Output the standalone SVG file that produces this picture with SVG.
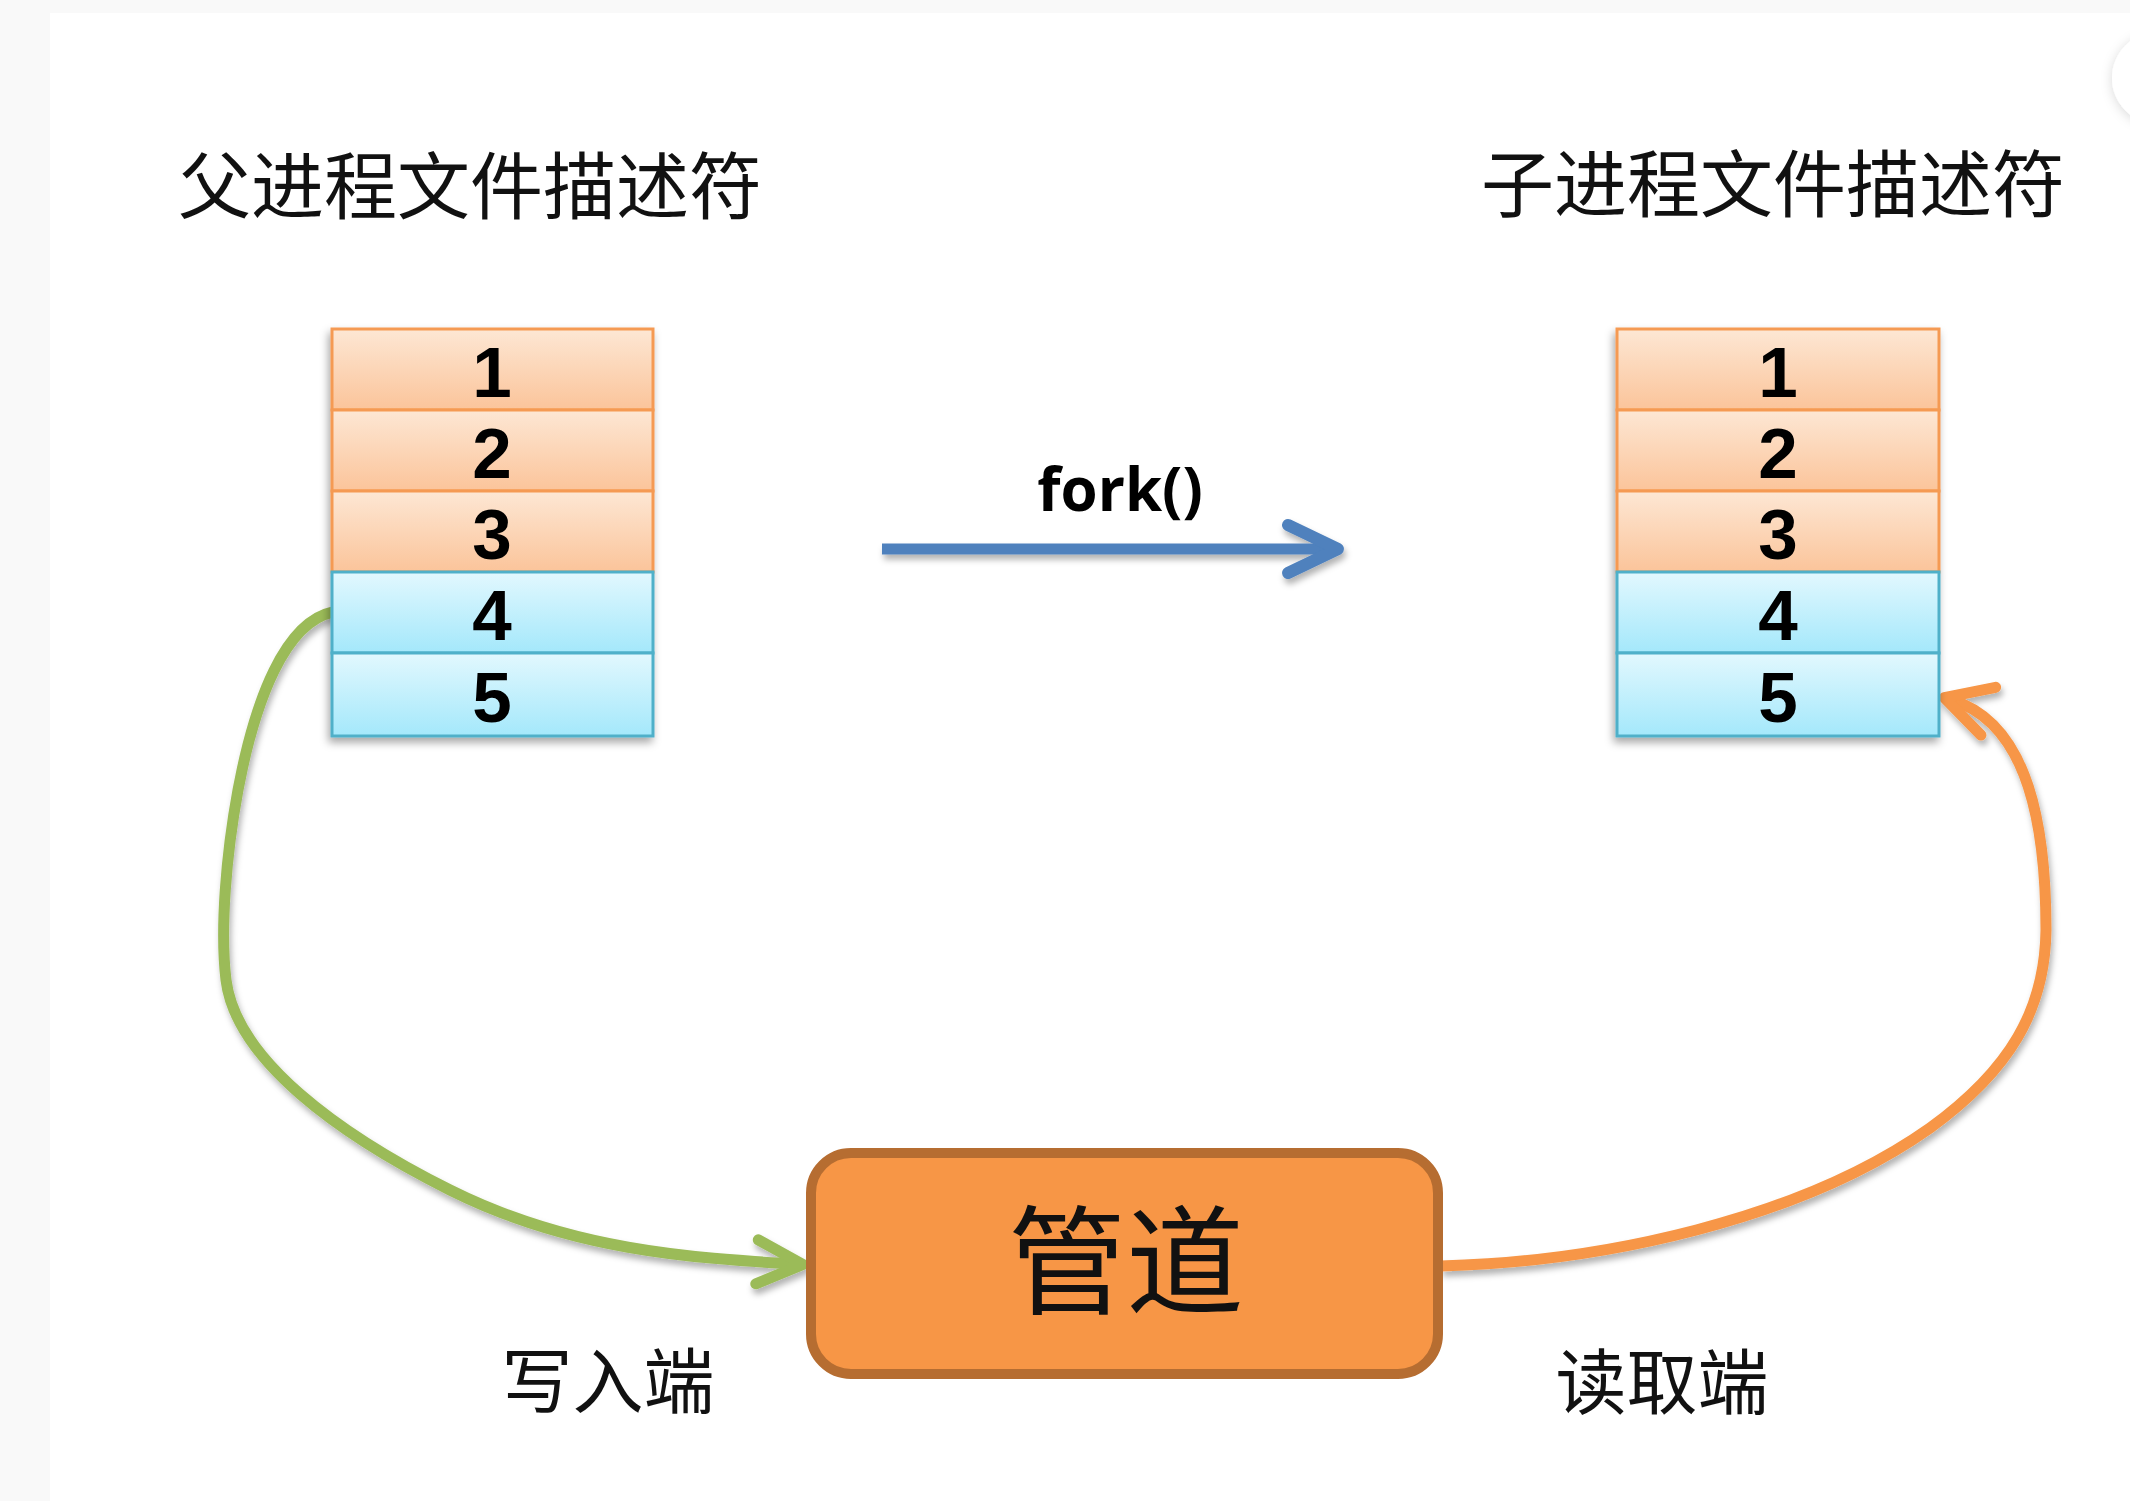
<svg xmlns="http://www.w3.org/2000/svg" width="2130" height="1501" viewBox="0 0 2130 1501">
<style>
.title{font-family:"Noto Sans CJK SC","Noto Sans",sans-serif;font-size:73px;fill:#111;text-anchor:middle}
.num{font-family:"Liberation Sans",Arial,sans-serif;font-weight:700;font-size:71px;fill:#000;text-anchor:middle}
.fork{font-family:"Open Sans","Liberation Sans",sans-serif;font-weight:700;font-size:60px;fill:#000;text-anchor:middle}
.lbl{font-family:"Noto Sans CJK SC",sans-serif;font-size:71px;fill:#111;text-anchor:middle}
.or{stroke:#f59a52;stroke-width:3}
.bl{stroke:#4fb0c9;stroke-width:3}
.conn{fill:none;stroke-width:11}
</style>
<defs>
<linearGradient id="gO" x1="0" y1="0" x2="0" y2="1"><stop offset="0" stop-color="#fde7d4"/><stop offset="1" stop-color="#fbc49a"/></linearGradient>
<linearGradient id="gB" x1="0" y1="0" x2="0" y2="1"><stop offset="0" stop-color="#e2f8fe"/><stop offset="1" stop-color="#a4e8fb"/></linearGradient>
<filter id="sh" x="-20%" y="-20%" width="140%" height="140%"><feDropShadow dx="-2" dy="5" stdDeviation="4" flood-color="#000" flood-opacity="0.35"/></filter>
<filter id="csh" x="-20%" y="-20%" width="140%" height="140%"><feDropShadow dx="2" dy="5" stdDeviation="3" flood-color="#000" flood-opacity="0.3"/></filter>
<filter id="ring" x="-50%" y="-50%" width="200%" height="200%"><feDropShadow dx="0" dy="2" stdDeviation="6" flood-color="#000" flood-opacity="0.15"/></filter>
<marker id="aBlue" viewBox="-60 -35 70 70" markerWidth="70" markerHeight="70" markerUnits="userSpaceOnUse" refX="-8" refY="0" orient="auto"><path d="M-50,-24 L0,0 L-50,24" fill="none" stroke="#4f81bd" stroke-width="12" stroke-linecap="round" stroke-linejoin="round"/></marker>
<marker id="aGreen" viewBox="-60 -35 70 70" markerWidth="70" markerHeight="70" markerUnits="userSpaceOnUse" refX="-8" refY="0" orient="auto"><path d="M-46,-22 L0,0 L-46,22" fill="none" stroke="#9bbb59" stroke-width="11" stroke-linecap="round" stroke-linejoin="round"/></marker>
<marker id="aOrange" viewBox="-60 -35 70 70" markerWidth="70" markerHeight="70" markerUnits="userSpaceOnUse" refX="-8" refY="0" orient="auto"><path d="M-46,-25 L0,0 L-46,25" fill="none" stroke="#f79646" stroke-width="11" stroke-linecap="round" stroke-linejoin="round"/></marker>
</defs>
<rect x="0" y="0" width="2130" height="1501" fill="#f9f9f9"/>
<rect x="50" y="13" width="2080" height="1488" fill="#ffffff"/>
<circle cx="2158" cy="78" r="46" fill="#ffffff" filter="url(#ring)"/>

<g id="title-parent"><text class="title" x="470" y="213">父进程文件描述符</text></g>
<g id="title-child"><text class="title" x="1773" y="211">子进程文件描述符</text></g>

<g id="connectors">
<g filter="url(#csh)">
<path id="fork-arrow" class="conn" d="M882,549 L1330,549" stroke="#4f81bd" stroke-width="12" marker-end="url(#aBlue)"/>
<path id="write-end" class="conn" d="M333,612 C285,622 255,700 238,790 C226,855 220,930 226,980 C236,1060 340,1135 450,1190 C570,1250 690,1258 795,1264" stroke="#9bbb59" marker-end="url(#aGreen)"/>
<path id="read-end" class="conn" d="M1441,1266 C1600,1262 1800,1220 1930,1128 C2010,1070 2045,1010 2046,930 C2046,830 2030,724 1952,700" stroke="#f79646" marker-end="url(#aOrange)"/>
</g>
<text x="1120" y="511" class="fork">fork()</text>
</g>

<g id="parent-fd" filter="url(#sh)">
<rect x="332" y="329" width="321" height="81" fill="url(#gO)" class="or"/>
<rect x="332" y="410" width="321" height="81" fill="url(#gO)" class="or"/>
<rect x="332" y="491" width="321" height="81" fill="url(#gO)" class="or"/>
<rect x="332" y="572" width="321" height="81" fill="url(#gB)" class="bl"/>
<rect x="332" y="653" width="321" height="83" fill="url(#gB)" class="bl"/>
</g>
<g id="parent-fd-labels">
<text class="num" x="492" y="397">1</text>
<text class="num" x="492" y="478">2</text>
<text class="num" x="492" y="559">3</text>
<text class="num" x="492" y="640">4</text>
<text class="num" x="492" y="722">5</text>
</g>

<g id="child-fd" filter="url(#sh)">
<rect x="1617" y="329" width="322" height="81" fill="url(#gO)" class="or"/>
<rect x="1617" y="410" width="322" height="81" fill="url(#gO)" class="or"/>
<rect x="1617" y="491" width="322" height="81" fill="url(#gO)" class="or"/>
<rect x="1617" y="572" width="322" height="81" fill="url(#gB)" class="bl"/>
<rect x="1617" y="653" width="322" height="83" fill="url(#gB)" class="bl"/>
</g>
<g id="child-fd-labels">
<text class="num" x="1778" y="397">1</text>
<text class="num" x="1778" y="478">2</text>
<text class="num" x="1778" y="559">3</text>
<text class="num" x="1778" y="640">4</text>
<text class="num" x="1778" y="722">5</text>
</g>

<g id="pipe">
<rect x="811" y="1153" width="627" height="221" rx="40" ry="40" fill="#f79646" stroke="#b66d31" stroke-width="10"/>
<text class="lbl" x="1126" y="1305" style="font-size:118px">管道</text>
</g>

<g id="label-write"><text class="lbl" x="608" y="1407">写入端</text></g>
<g id="label-read"><text class="lbl" x="1662" y="1408">读取端</text></g>
</svg>
